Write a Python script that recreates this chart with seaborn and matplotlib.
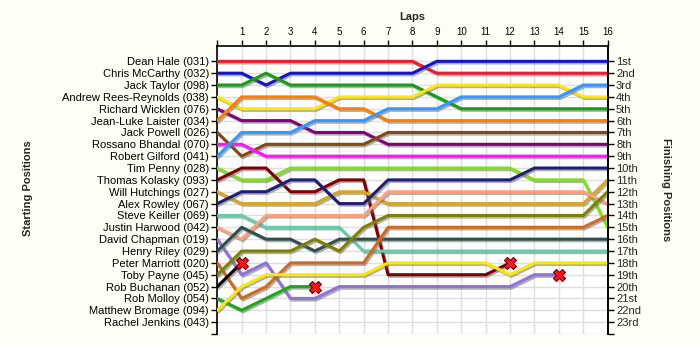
import matplotlib
matplotlib.use("Agg")
import matplotlib.pyplot as plt
import matplotlib.patheffects as pe
import pandas as pd
import seaborn as sns

sns.set_style("white")
plt.rcParams["font.family"] = ["Liberation Sans", "DejaVu Sans"]

# Laps of the race (0 = grid)
laps = [0, 1, 2, 3, 4, 5, 6, 7, 8, 9, 10, 11, 12, 13, 14, 15, 16]

# Drivers in starting order
drivers = [
    "Dean Hale (031)", "Chris McCarthy (032)", "Jack Taylor (098)",
    "Andrew Rees-Reynolds (038)", "Richard Wicklen (076)", "Jean-Luke Laister (034)",
    "Jack Powell (026)", "Rossano Bhandal (070)", "Robert Gilford (041)",
    "Tim Penny (028)", "Thomas Kolasky (093)", "Will Hutchings (027)",
    "Alex Rowley (067)", "Steve Keiller (069)", "Justin Harwood (042)",
    "David Chapman (019)", "Henry Riley (029)", "Peter Marriott (020)",
    "Toby Payne (045)", "Rob Buchanan (052)", "Rob Molloy (054)",
    "Matthew Bromage (094)", "Rachel Jenkins (043)",
]

finishing_labels = [
    "1st", "2nd", "3rd", "4th", "5th", "6th", "7th", "8th", "9th", "10th",
    "11th", "12th", "13th", "14th", "15th", "16th", "17th", "18th", "19th",
    "20th", "21st", "22nd", "23rd",
]

# Race position of each driver at the end of every lap
dean_hale = [1, 1, 1, 1, 1, 1, 1, 1, 1, 2, 2, 2, 2, 2, 2, 2, 2]
chris_mccarthy = [2, 2, 3, 2, 2, 2, 2, 2, 2, 1, 1, 1, 1, 1, 1, 1, 1]
jack_taylor = [3, 3, 2, 3, 3, 3, 3, 3, 3, 4, 5, 5, 5, 5, 5, 5, 5]
andrew_rees_reynolds = [4, 5, 5, 5, 5, 4, 4, 4, 4, 3, 3, 3, 3, 3, 3, 4, 4]
richard_wicklen = [5, 6, 6, 6, 7, 7, 7, 8, 8, 8, 8, 8, 8, 8, 8, 8, 8]
jean_luke_laister = [6, 4, 4, 4, 4, 5, 5, 6, 6, 6, 6, 6, 6, 6, 6, 6, 6]
jack_powell = [7, 9, 8, 8, 8, 8, 8, 7, 7, 7, 7, 7, 7, 7, 7, 7, 7]
rossano_bhandal = [8, 8, 9, 9, 9, 9, 9, 9, 9, 9, 9, 9, 9, 9, 9, 9, 9]
robert_gilford = [9, 7, 7, 7, 6, 6, 6, 5, 5, 5, 4, 4, 4, 4, 4, 3, 3]
tim_penny = [10, 11, 11, 10, 10, 10, 10, 10, 10, 10, 10, 10, 10, 11, 11, 11, 15]
thomas_kolasky = [11, 10, 10, 12, 12, 11, 11, 19, 19, 19, 19, 19, 18]
will_hutchings = [12, 13, 13, 13, 13, 12, 12, 13, 13, 13, 13, 13, 13, 13, 13, 13, 11]
alex_rowley = [13, 12, 12, 11, 11, 13, 13, 11, 11, 11, 11, 11, 11, 10, 10, 10, 10]
steve_keiller = [14, 14, 15, 15, 15, 15, 17, 17, 17, 17, 17, 17, 17, 17, 17, 17, 17]
justin_harwood = [15, 16, 14, 14, 14, 14, 14, 12, 12, 12, 12, 12, 12, 12, 12, 12, 13]
david_chapman = [16, 19, 18, 21, 21, 20, 20, 20, 20, 20, 20, 20, 20, 19, 19]
henry_riley = [17, 15, 16, 16, 17, 16, 16, 16, 16, 16, 16, 16, 16, 16, 16, 16, 16]
peter_marriott = [18, 21, 20, 18, 18, 18, 18, 15, 15, 15, 15, 15, 15, 15, 15, 15, 14]
toby_payne = [19, 17, 17, 17, 16, 17, 15, 14, 14, 14, 14, 14, 14, 14, 14, 14, 12]
rob_buchanan = [20, 18]
rob_molloy = [21, 22, 21, 20, 20]
matthew_bromage = [22, 20, 19, 19, 19, 19, 19, 18, 18, 18, 18, 18, 19, 18, 18, 18, 18]
rachel_jenkins = []

lap_positions = [
    dean_hale, chris_mccarthy, jack_taylor, andrew_rees_reynolds, richard_wicklen,
    jean_luke_laister, jack_powell, rossano_bhandal, robert_gilford, tim_penny,
    thomas_kolasky, will_hutchings, alex_rowley, steve_keiller, justin_harwood,
    david_chapman, henry_riley, peter_marriott, toby_payne, rob_buchanan,
    rob_molloy, matthew_bromage, rachel_jenkins,
]

line_colors = [
    "#EE1C24", "#1414CC", "#14A014", "#FFE800", "#800080", "#FF7F00",
    "#7F4A14", "#FF14FF", "#3399FF", "#80E020", "#800000", "#DAA520",
    "#1E1E78", "#66CDAA", "#FFA07A", "#9370DB", "#2F4F4F", "#D2691E",
    "#808000", "#000000", "#18A818", "#FFE800", "#808080",
]

# Drivers who retired: (driver, lap, position)
retired_drivers = ["Rob Buchanan (052)", "Rob Molloy (054)",
                   "Thomas Kolasky (093)", "David Chapman (019)"]
retired_laps = [1, 4, 12, 14]
retired_positions = [18, 20, 18, 19]

rows = []
for name, pos in zip(drivers, lap_positions):
    for lap, p in zip(laps, pos):
        rows.append((name, lap, p))
df = pd.DataFrame(rows, columns=["Driver", "Lap", "Position"])
palette = dict(zip(drivers, line_colors))
hue_order = [d for d, p in zip(drivers, lap_positions) if p]

ret_df = pd.DataFrame({"Driver": retired_drivers, "Lap": retired_laps,
                       "Position": retired_positions})

fig = plt.figure(figsize=(7, 3.45), dpi=100, facecolor="#FFFEF4")
ax = fig.add_axes([0.3104, 0.0319, 0.5577, 0.8357])
ax.set_facecolor("white")

sns.lineplot(data=df, x="Lap", y="Position", hue="Driver", hue_order=hue_order,
             palette=palette, estimator=None, linewidth=2.2, legend=False,
             ax=ax, zorder=3)
for line in ax.get_lines():
    line.set_path_effects([
        pe.SimpleLineShadow(offset=(1.0, -1.2), shadow_color="#707070", alpha=0.55),
        pe.Normal(),
    ])

sns.scatterplot(data=ret_df, x="Lap", y="Position", marker="X", s=75,
                color="#FF1414", edgecolor="#700000", linewidth=0.8,
                legend=False, ax=ax, zorder=5)

n = len(drivers)
ax.set_xlim(0, 16)
ax.set_ylim(n + 1, -0.32)

# Lap ticks along the top
ax.xaxis.tick_top()
ax.set_xticks(laps)
ax.set_xticklabels([""] + [str(l) for l in laps[1:]], fontsize=7)
ax.set_xlabel("")

# Starting grid on the left
ax.set_yticks(list(range(1, n + 2)))
ax.set_yticklabels(drivers + [""], fontsize=8)
ax.set_ylabel("")

ax.tick_params(axis="both", direction="out", length=4, width=1, color="black",
               pad=2, labelcolor="black")
ax.grid(True, color="#DEDEDE", linewidth=1, zorder=0)
ax.set_axisbelow(True)

for side in ["top", "left", "right"]:
    ax.spines[side].set_visible(True)
    ax.spines[side].set_color("black")
    ax.spines[side].set_linewidth(1.2)
ax.spines["bottom"].set_visible(False)

# Finishing order on the right
ax2 = ax.twinx()
ax2.set_ylim(ax.get_ylim())
ax2.set_yticks(list(range(1, n + 2)))
ax2.set_yticklabels(finishing_labels + [""], fontsize=8)
ax2.tick_params(axis="y", direction="out", length=4, width=1, color="black", pad=2)
for side in ["top", "bottom", "left"]:
    ax2.spines[side].set_visible(False)
ax2.spines["right"].set_color("black")
ax2.spines["right"].set_linewidth(1.2)

fig.text(412 / 700, 1 - 17 / 345, "Laps", ha="center", va="center",
         fontsize=8, fontweight="bold")
fig.text(28 / 700, 1 - 188 / 345, "Starting Positions", ha="center", va="center",
         rotation=90, fontsize=8, fontweight="bold")
fig.text(666 / 700, 1 - 190 / 345, "Finishing Positions", ha="center", va="center",
         rotation=270, fontsize=8, fontweight="bold")

fig.savefig("out.png", dpi=100, facecolor=fig.get_facecolor())
